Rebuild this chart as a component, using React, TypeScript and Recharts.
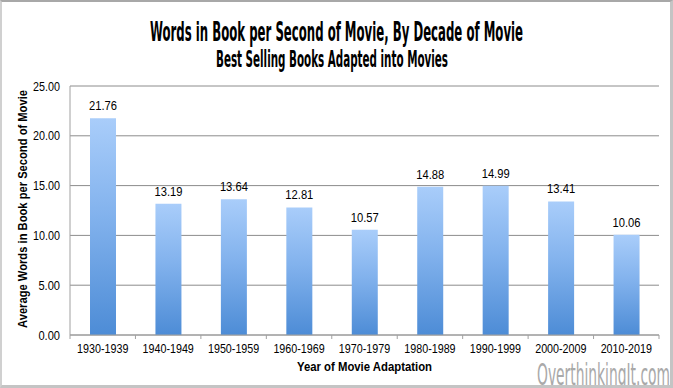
import React from 'react';
import { BarChart, Bar, XAxis, YAxis, CartesianGrid, LabelList } from 'recharts';

const decades = ['1930-1939', '1940-1949', '1950-1959', '1960-1969', '1970-1979', '1980-1989', '1990-1999', '2000-2009', '2010-2019'];
const wordsPerSecond = [21.76, 13.19, 13.64, 12.81, 10.57, 14.88, 14.99, 13.41, 10.06];
const yTicks = [0, 5, 10, 15, 20, 25];

const data = decades.map((decade, i) => ({ decade, value: wordsPerSecond[i] }));

const W = 673;
const H = 388;
const sans = "'Liberation Sans', Arial, sans-serif";
const condensed = "'DejaVu Sans Condensed', 'Liberation Sans', sans-serif";

// the source font is narrow, so squeeze the regular face a little
const narrowWidth = (s: string) => s.length * 5.7;

// category tick: label plus a short mark on the left band edge (and right edge for the last one)
const DecadeTick = (props: any) => {
  const { x, y, payload, index, visibleTicksCount } = props;
  const half = payload.offset || 0;
  const axisY = y - 8;
  return (
    <g>
      <line x1={x - half} x2={x - half} y1={axisY} y2={axisY + 4} stroke="#a0a0a0" />
      {index === visibleTicksCount - 1 && (
        <line x1={x + half} x2={x + half} y1={axisY} y2={axisY + 4} stroke="#a0a0a0" />
      )}
      <text
        x={x}
        y={y + 10}
        textAnchor="middle"
        fontSize={13.5}
        fontFamily={sans}
        fill="#000"
        textLength={narrowWidth(payload.value)}
        lengthAdjust="spacingAndGlyphs"
      >
        {payload.value}
      </text>
    </g>
  );
};

const ValueTick = (props: any) => {
  const { x, y, payload } = props;
  const label = Number(payload.value).toFixed(2);
  return (
    <text
      x={x}
      y={y + 4.5}
      textAnchor="end"
      fontSize={13}
      fontFamily={sans}
      fill="#000"
      textLength={label.length * 5.4}
      lengthAdjust="spacingAndGlyphs"
    >
      {label}
    </text>
  );
};

const BarValue = (props: any) => {
  const { x, y, width, value } = props;
  const label = Number(value).toFixed(2);
  return (
    <text
      x={Number(x) + Number(width) / 2}
      y={Number(y) - 8}
      textAnchor="middle"
      fontSize={13}
      fontFamily={sans}
      fill="#000"
      textLength={label.length * 5.6}
      lengthAdjust="spacingAndGlyphs"
    >
      {label}
    </text>
  );
};

export default function App() {
  return (
    <div style={{ position: 'absolute', left: 0, top: 0, width: W, height: H, background: '#fff' }}>
      <BarChart width={W} height={H} data={data} margin={{ top: 86, right: 14, bottom: 23, left: 0 }}>
        <defs>
          <linearGradient id="barFill" x1="0" y1="0" x2="0" y2="1">
            <stop offset="0%" stopColor="#a9cdfa" />
            <stop offset="45%" stopColor="#82b2ed" />
            <stop offset="100%" stopColor="#4d8cd6" />
          </linearGradient>
        </defs>
        <CartesianGrid vertical={false} stroke="#8c8c8c" />
        <XAxis
          dataKey="decade"
          height={30}
          axisLine={{ stroke: '#a0a0a0' }}
          tickLine={false}
          interval={0}
          tick={<DecadeTick />}
        />
        <YAxis
          width={70}
          domain={[0, 25]}
          ticks={yTicks}
          axisLine={{ stroke: '#a0a0a0' }}
          tickLine={false}
          tickMargin={4}
          tick={<ValueTick />}
        />
        <Bar dataKey="value" fill="url(#barFill)" barSize={26} isAnimationActive={false}>
          <LabelList dataKey="value" content={<BarValue />} />
        </Bar>
      </BarChart>

      <svg width={W} height={H} style={{ position: 'absolute', left: 0, top: 0, pointerEvents: 'none' }}>
        <text
          transform="translate(336.5 41) scale(1 1.3)"
          textAnchor="middle"
          fontSize={20}
          fontWeight="bold"
          fontFamily={condensed}
          textLength={373}
          lengthAdjust="spacingAndGlyphs"
        >
          Words in Book per Second of Movie, By Decade of Movie
        </text>
        <text
          transform="translate(332 67) scale(1 1.3)"
          textAnchor="middle"
          fontSize={17}
          fontWeight="bold"
          fontFamily={condensed}
          textLength={232}
          lengthAdjust="spacingAndGlyphs"
        >
          Best Selling Books Adapted into Movies
        </text>
        <text
          transform="translate(27 209) rotate(-90)"
          textAnchor="middle"
          fontSize={13}
          fontWeight="bold"
          fontFamily={sans}
          textLength={238}
          lengthAdjust="spacingAndGlyphs"
        >
          Average Words in Book per Second of Movie
        </text>
        <text
          x={364.5}
          y={371}
          textAnchor="middle"
          fontSize={13}
          fontWeight="bold"
          fontFamily={sans}
          textLength={135}
          lengthAdjust="spacingAndGlyphs"
        >
          Year of Movie Adaptation
        </text>
        <text
          transform="translate(537 385) scale(1 1.2)"
          fontSize={25}
          fill="#a9a9a9"
          fontFamily={condensed}
          textLength={133}
          lengthAdjust="spacingAndGlyphs"
        >
          OverthinkingIt.com
        </text>
      </svg>

      <div
        style={{
          position: 'absolute',
          left: 0,
          top: 0,
          width: W,
          height: H,
          boxSizing: 'border-box',
          borderTop: '2px solid #a8a8a8',
          borderLeft: '2px solid #d0d0d0',
          borderRight: '3px solid #c4c4c4',
          borderBottom: '3px solid #c4c4c4',
          pointerEvents: 'none',
        }}
      />
    </div>
  );
}
